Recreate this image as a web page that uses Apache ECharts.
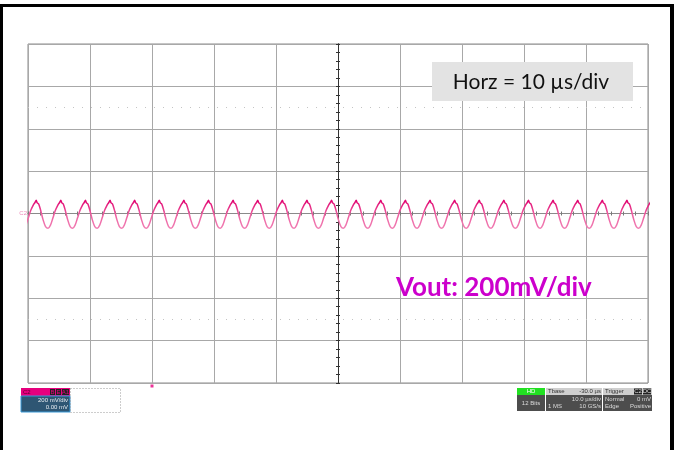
<!DOCTYPE html>
<html>
<head>
<meta charset="utf-8">
<script src="https://cdn.jsdelivr.net/npm/echarts@6/dist/echarts.min.js"></script>
<style>
html, body { margin: 0; padding: 0; background: #fff; }
#main { width: 674px; height: 450px; }
</style>
</head>
<body>
<div id="main"></div>
<script>
// time axis in µs, 10 µs/div, screen centre = 0
var timeRange = [-50, 50]
var timeStep = 10
// vertical axis in mV, 200 mV/div
var mvRange = [-800, 800]
var mvStep = 200
// one ripple cycle (starts at the trough)
var cyclePhase = [0, 0.1, 0.2, 0.3, 0.4, 0.47, 0.52, 0.56, 0.62, 0.7, 0.8, 0.9]
var cycleMv = [-70, -55, -20, 15, 40, 52, 62, 50, 45, 15, -30, -62]
var periodUs = 3.97
var firstTroughUs = -50.74
var cycleCount = 26
// trigger point and the two dotted cursor levels
var triggerUs = -30
var cursorMv = [500, -500]

var trace = []
for (var k = 0; k < cycleCount; k++) {
    for (var i = 0; i < cyclePhase.length; i++) {
        trace.push([firstTroughUs + (k + cyclePhase[i]) * periodUs, cycleMv[i]])
    }
}

var myChart = echarts.init(document.getElementById('main'))

var small = { fontFamily: 'Liberation Sans', fontSize: 6 }
function txt(x, y, s, color, align) {
    return {
        type: 'text', x: x, y: y, z: 20,
        style: Object.assign({ text: s, fill: color, align: align || 'left', verticalAlign: 'middle' }, small)
    }
}
function box(x, y, w, h, fill, stroke) {
    return { type: 'rect', z: 10, shape: { x: x, y: y, width: w, height: h }, style: { fill: fill, stroke: stroke || null, lineWidth: 1 } }
}

var option = {
    animation: false,
    backgroundColor: '#fff',
    grid: { left: 28, top: 44, width: 620, height: 339, show: true, borderColor: '#8a8a8a', borderWidth: 1 },
    xAxis: [
        {
            type: 'value', min: timeRange[0], max: timeRange[1], interval: timeStep,
            axisLine: { onZero: true, onZeroAxisIndex: 0, lineStyle: { color: '#8a8a8a', width: 1 } },
            axisTick: { show: true, length: 2, lineStyle: { color: '#777' } },
            minorTick: { show: true, splitNumber: 5, length: 2, lineStyle: { color: '#777' } },
            axisLabel: { show: false },
            splitLine: { show: true, lineStyle: { color: '#a8a8a8', width: 1 } }
        },
        {
            type: 'value', position: 'top', min: timeRange[0], max: timeRange[1], interval: timeStep,
            axisLine: { onZero: true, onZeroAxisIndex: 0, lineStyle: { color: '#8a8a8a', width: 1 } },
            axisTick: { show: true, length: 2, lineStyle: { color: '#777' } },
            minorTick: { show: true, splitNumber: 5, length: 2, lineStyle: { color: '#777' } },
            axisLabel: { show: false },
            splitLine: { show: false }
        }
    ],
    yAxis: [
        {
            type: 'value', min: mvRange[0], max: mvRange[1], interval: mvStep,
            axisLine: { onZero: true, onZeroAxisIndex: 0, lineStyle: { color: '#333', width: 1 } },
            axisTick: { show: true, length: 2, lineStyle: { color: '#333' } },
            minorTick: { show: true, splitNumber: 5, length: 2, lineStyle: { color: '#333' } },
            axisLabel: { show: false },
            splitLine: { show: true, lineStyle: { color: '#a8a8a8', width: 1 } }
        },
        {
            type: 'value', position: 'right', min: mvRange[0], max: mvRange[1], interval: mvStep,
            axisLine: { onZero: true, onZeroAxisIndex: 0, lineStyle: { color: '#333', width: 1 } },
            axisTick: { show: true, length: 2, lineStyle: { color: '#333' } },
            minorTick: { show: true, splitNumber: 5, length: 2, lineStyle: { color: '#333' } },
            axisLabel: { show: false },
            splitLine: { show: false }
        }
    ],
    visualMap: {
        show: false, type: 'continuous', seriesIndex: 0, dimension: 1,
        min: -70, max: 62, inRange: { color: ['#f07db3', '#ee5fa0', '#e0006e'] }
    },
    series: [
        {
            name: 'Vout', type: 'line', data: trace, showSymbol: false, smooth: 0.3,
            lineStyle: { width: 1.5 }, z: 5,
            markLine: {
                silent: true, symbol: 'none', label: { show: false },
                lineStyle: { color: '#c4c4c4', type: [1, 8], width: 1 },
                data: cursorMv.map(function (v) { return { yAxis: v } })
            }
        },
        {
            // trigger marker below the grid
            type: 'scatter', data: [[triggerUs, mvRange[0]]], symbol: 'rect', symbolSize: 3,
            symbolOffset: [0, 3], itemStyle: { color: '#e6007e' }, clip: false, silent: true
        },
        {
            // channel level marker on the left edge
            type: 'scatter', data: [[timeRange[0], 0]], symbolSize: 0, clip: false, silent: true,
            label: { show: true, position: 'left', distance: 1, formatter: 'C2', color: '#e86aa6', fontSize: 6, fontFamily: 'Liberation Sans' }
        }
    ],
    graphic: [
        // outer frame
        box(0, 4, 674, 3, '#000'),
        box(0, 4, 3, 446, '#000'),
        box(670, 4, 4, 446, '#000'),
        // horizontal scale note
        box(432, 62, 201, 39, '#e3e3e3'),
        {
            type: 'text', x: 531, y: 82, z: 20,
            style: { text: 'Horz = 10 µs/div', fill: '#111', fontFamily: 'Lato', fontSize: 21, align: 'center', verticalAlign: 'middle' }
        },
        {
            type: 'text', x: 396, y: 288, z: 20,
            style: { text: 'Vout: 200mV/div', fill: '#cc00cc', fontFamily: 'Lato', fontWeight: 'bold', fontSize: 26, verticalAlign: 'middle' }
        },
        // channel descriptor (bottom left)
        box(21, 388, 49, 8, '#e6007e'),
        txt(23, 392, 'C2', '#5a0030'),
        box(50, 389, 5, 6, '#222'), txt(52.5, 392, 'B', '#e6007e', 'center'),
        box(56, 389, 5, 6, '#222'), txt(58.5, 392, 'E', '#e6007e', 'center'),
        box(62, 389, 7, 6, '#222'), txt(65.5, 392, 'A1', '#e6007e', 'center'),
        box(21, 396, 49, 16, '#2e5673', '#3a9ad8'),
        txt(68, 400, '200 mV/div', '#e8eef2', 'right'),
        txt(68, 407, '0.00 mV', '#e8eef2', 'right'),
        {
            type: 'rect', z: 10, shape: { x: 70.5, y: 388.5, width: 50, height: 24 },
            style: { fill: null, stroke: '#9a9a9a', lineWidth: 1, lineDash: [1, 2] }
        },
        // timebase / trigger descriptors (bottom right)
        box(517, 388, 28, 7, '#22e022'),
        txt(531, 391.5, 'HD', '#ffffff', 'center'),
        box(517, 395, 28, 16, '#4d4d4d'),
        txt(531, 403, '12 Bits', '#dcdcdc', 'center'),
        box(546, 388, 56, 7, '#cfcfcf'),
        txt(548, 391.5, 'Tbase', '#333', 'left'),
        txt(601, 391.5, '-30.0 µs', '#333', 'right'),
        box(546, 395, 56, 16, '#4d4d4d'),
        txt(601, 399, '10.0 µs/div', '#dcdcdc', 'right'),
        txt(548, 406.5, '1 MS', '#dcdcdc', 'left'),
        txt(601, 406.5, '10 GS/s', '#dcdcdc', 'right'),
        box(603, 388, 49, 7, '#cfcfcf'),
        txt(605, 391.5, 'Trigger', '#333', 'left'),
        box(634, 388.5, 8, 6, '#222'), txt(638, 391.5, 'C2', '#ddd', 'center'),
        box(643, 388.5, 8, 6, '#222'), txt(647, 391.5, 'DC', '#ddd', 'center'),
        box(603, 395, 49, 16, '#4d4d4d'),
        txt(605, 399, 'Normal', '#dcdcdc', 'left'),
        txt(651, 399, '0 mV', '#dcdcdc', 'right'),
        txt(605, 406.5, 'Edge', '#dcdcdc', 'left'),
        txt(651, 406.5, 'Positive', '#dcdcdc', 'right')
    ]
}
myChart.setOption(option)
</script>
</body>
</html>
